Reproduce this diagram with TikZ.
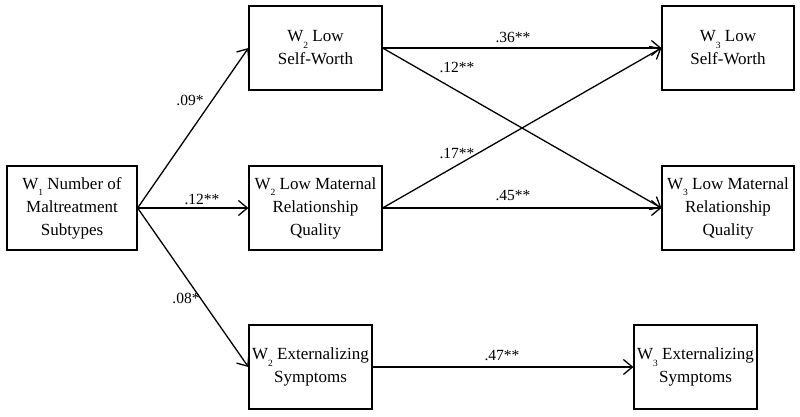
\documentclass[tikz,border=0pt]{standalone}
\usepackage{fontspec}
\setmainfont{Liberation Serif}
\usetikzlibrary{arrows.meta}
\newcommand{\Wsub}[1]{W\raisebox{-0.38em}{\fontsize{9.5}{9.5}\selectfont #1}}
\begin{document}
\begin{tikzpicture}[x=1pt,y=-1pt,
  box/.style={draw, line width=1.2pt, align=center, inner sep=0pt,
    font=\fontsize{17}{23}\selectfont},
  path/.style={line width=1.3pt, -{Straight Barb[length=9pt,width=15pt,line width=1.3pt]}},
  lab/.style={font=\fontsize{15.5}{18}\selectfont, inner sep=0pt}]
\useasboundingbox (0,0) rectangle (800,416);
\node[box, minimum width=130pt, minimum height=84pt] (w1) at (72,208)
  {\Wsub{1} Number of\\Maltreatment\\Subtypes};
\node[box, minimum width=133pt, minimum height=84pt] (a2) at (315.5,48)
  {\Wsub{2} Low\\Self-Worth};
\node[box, minimum width=133pt, minimum height=84pt] (b2) at (315.5,208)
  {\Wsub{2} Low Maternal\\Relationship\\Quality};
\node[box, minimum width=123pt, minimum height=84pt] (c2) at (310.5,367)
  {\Wsub{2} Externalizing\\Symptoms};
\node[box, minimum width=132pt, minimum height=84pt] (a3) at (728,48)
  {\Wsub{3} Low\\Self-Worth};
\node[box, minimum width=132pt, minimum height=84pt] (b3) at (728,208)
  {\Wsub{3} Low Maternal\\Relationship\\Quality};
\node[box, minimum width=123pt, minimum height=84pt] (c3) at (695.5,367)
  {\Wsub{3} Externalizing\\Symptoms};

\draw[path] (w1.east) -- (a2.west);
\draw[path] (w1.east) -- (b2.west);
\draw[path] (w1.east) -- (c2.west);
\draw[path] (a2.east) -- (a3.west);
\draw[path] (a2.east) -- (b3.west);
\draw[path] (b2.east) -- (a3.west);
\draw[path] (b2.east) -- (b3.west);
\draw[path] (c2.east) -- (c3.west);

\node[lab] (l1) at (190,100) {.09*};
\node[lab] (l2) at (202,199) {.12**};
\node[lab] (l3) at (186,298) {.08*};
\node[lab] (l4) at (513,37) {.36**};
\node[lab] (l5) at (457,67) {.12**};
\node[lab] (l6) at (457,153) {.17**};
\node[lab] (l7) at (513,196) {.45**};
\node[lab] (l8) at (502,355) {.47**};
\end{tikzpicture}
\end{document}
